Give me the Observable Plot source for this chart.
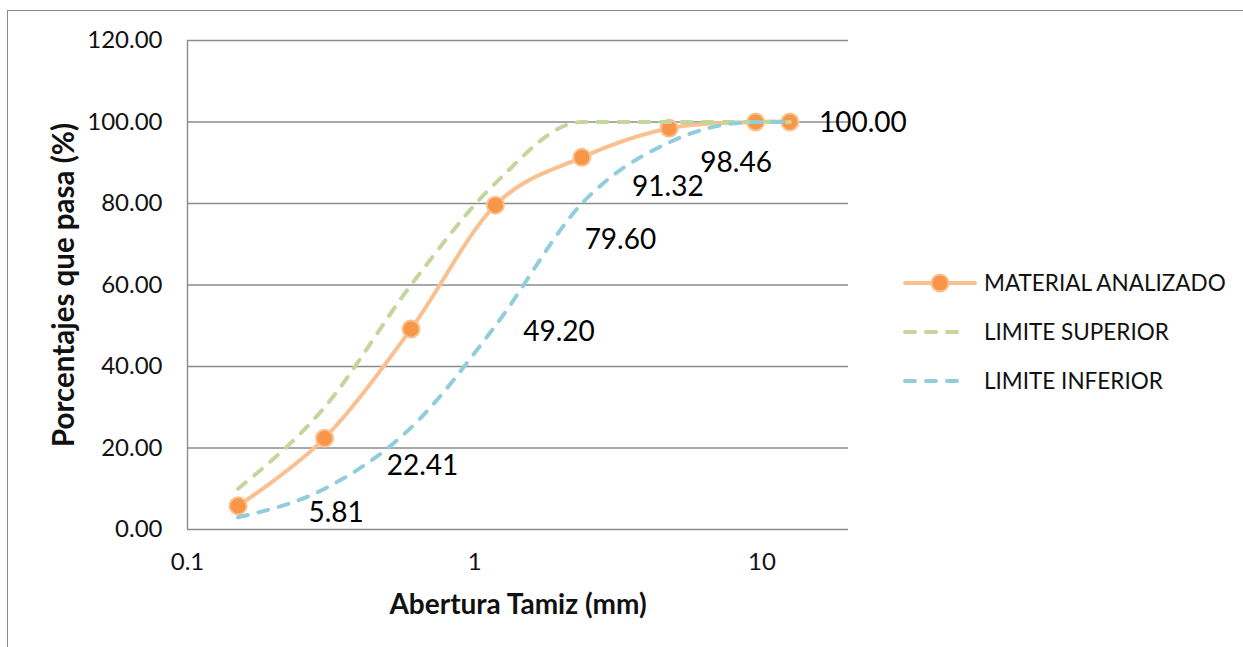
<!DOCTYPE html>
<html>
<head>
<meta charset="utf-8">
<script src="https://cdn.jsdelivr.net/npm/d3@7"></script>
<script src="https://cdn.jsdelivr.net/npm/@observablehq/plot@0.6"></script>
<style>
  html, body { margin: 0; padding: 0; background: #fff; }
  #wrap { position: relative; width: 1243px; height: 647px; overflow: hidden; font-family: Lato, "Open Sans", sans-serif; }
  #frame { position: absolute; left: 7px; top: 10px; width: 1300px; height: 700px; border-left: 1.5px solid #8a8a8a; border-top: 1.5px solid #8a8a8a; }
  #chart { position: absolute; left: 0; top: 0; }
  #legend { position: absolute; left: 903px; top: 258px; }
  .item { display: flex; align-items: center; height: 49px; font-size: 22.5px; color: #111; }
  .item svg { margin-right: 7px; }
</style>
</head>
<body>
<div id="wrap">
  <div id="frame"></div>
  <div id="chart"></div>
  <div id="legend"></div>
</div>
<script>
// Sieve openings (mm)
const sizes = [0.15, 0.3, 0.6, 1.18, 2.36, 4.75, 9.5, 12.5];
// Percent passing
const material = [5.81, 22.41, 49.20, 79.60, 91.32, 98.46, 100.00, 100.00];
const superior = [10, 30, 60, 85, 100, 100, 100, 100];
const inferior = [3, 10, 25, 50, 80, 95, 100, 100];
const seriesNames = ["MATERIAL ANALIZADO", "LIMITE SUPERIOR", "LIMITE INFERIOR"];
const xTicks = [0.1, 1, 10];
const yTicks = [0, 20, 40, 60, 80, 100, 120];
const xTitle = "Abertura Tamiz (mm)";
const yTitle = "Porcentajes que pasa (%)";
// label layout offsets (px) for data labels; null = hidden (overlapping)
const labelDx = [98, 98, 148, 125, 86, 67, null, 73];
const labelDy = [7, 28, 3, 35, 30, 35, null, 1];

const colors = { mat: "#FAC08F", matFill: "#F79646", sup: "#C3D69B", inf: "#92CDDC" };
const font = "Lato, 'Open Sans', sans-serif";

const rows = (vals) => sizes.map((s, i) => ({ x: s, y: vals[i] }));
const matRows = rows(material);

const labelMarks = matRows
  .map((d, i) => ({ ...d, i }))
  .filter(d => labelDx[d.i] !== null)
  .map(d => Plot.text([d], {
    x: "x", y: "y", text: dd => d3.format(".2f")(dd.y),
    dx: labelDx[d.i], dy: labelDy[d.i], fontSize: 28, fill: "#000", fontFamily: font
  }));

const chart = Plot.plot({
  width: 1243,
  height: 647,
  marginLeft: 187,
  marginRight: 395,
  marginTop: 40,
  marginBottom: 118,
  style: { fontFamily: font, background: "transparent", overflow: "visible" },
  x: { type: "log", domain: [0.1, 20] },
  y: { domain: [0, 120] },
  marks: [
    Plot.gridY(yTicks, { stroke: "#8c8c8c", strokeOpacity: 1, strokeWidth: 1.4 }),
    Plot.ruleX([0.1], { stroke: "#8c8c8c", strokeWidth: 1.4 }),
    Plot.axisX(xTicks, { tickSize: 0, tickPadding: 23, tickFormat: d => String(d), fontSize: 24, fill: "#111", label: null }),
    Plot.axisY(yTicks, { tickSize: 0, tickPadding: 25, tickFormat: d3.format(".2f"), fontSize: 24, fill: "#111", label: null }),
    Plot.text([xTitle], { frameAnchor: "bottom", lineAnchor: "middle", textAnchor: "middle", dy: 76, fontSize: 28, fontWeight: "bold", fill: "#111", fontFamily: font }),
    Plot.text([yTitle], { frameAnchor: "left", lineAnchor: "middle", textAnchor: "middle", dx: -123, rotate: -90, fontSize: 29.5, fontWeight: "bold", fill: "#111", fontFamily: font }),
    Plot.line(matRows, { x: "x", y: "y", curve: "cardinal", stroke: colors.mat, strokeWidth: 4 }),
    Plot.dot(matRows, { x: "x", y: "y", r: 8.5, fill: colors.matFill, stroke: colors.mat, strokeWidth: 2 }),
    Plot.line(rows(superior), { x: "x", y: "y", curve: "monotone-x", stroke: colors.sup, strokeWidth: 4, strokeDasharray: "10,11", strokeLinecap: "round" }),
    Plot.line(rows(inferior), { x: "x", y: "y", curve: "monotone-x", stroke: colors.inf, strokeWidth: 4, strokeDasharray: "10,11", strokeLinecap: "round" }),
    ...labelMarks
  ]
});
document.getElementById("chart").appendChild(chart);

// Legend
const legend = document.getElementById("legend");
const swatches = [
  `<svg width="74" height="20"><line x1="2" y1="10" x2="72" y2="10" stroke="${colors.mat}" stroke-width="4" stroke-linecap="round"/><circle cx="37" cy="10" r="8.5" fill="${colors.matFill}" stroke="${colors.mat}" stroke-width="2"/></svg>`,
  `<svg width="74" height="20"><line x1="2" y1="10" x2="64" y2="10" stroke="${colors.sup}" stroke-width="4" stroke-dasharray="10,11" stroke-linecap="round"/></svg>`,
  `<svg width="74" height="20"><line x1="2" y1="10" x2="64" y2="10" stroke="${colors.inf}" stroke-width="4" stroke-dasharray="10,11" stroke-linecap="round"/></svg>`
];
seriesNames.forEach((name, i) => {
  const div = document.createElement("div");
  div.className = "item";
  div.innerHTML = swatches[i] + `<span>${name}</span>`;
  legend.appendChild(div);
});
</script>
</body>
</html>
